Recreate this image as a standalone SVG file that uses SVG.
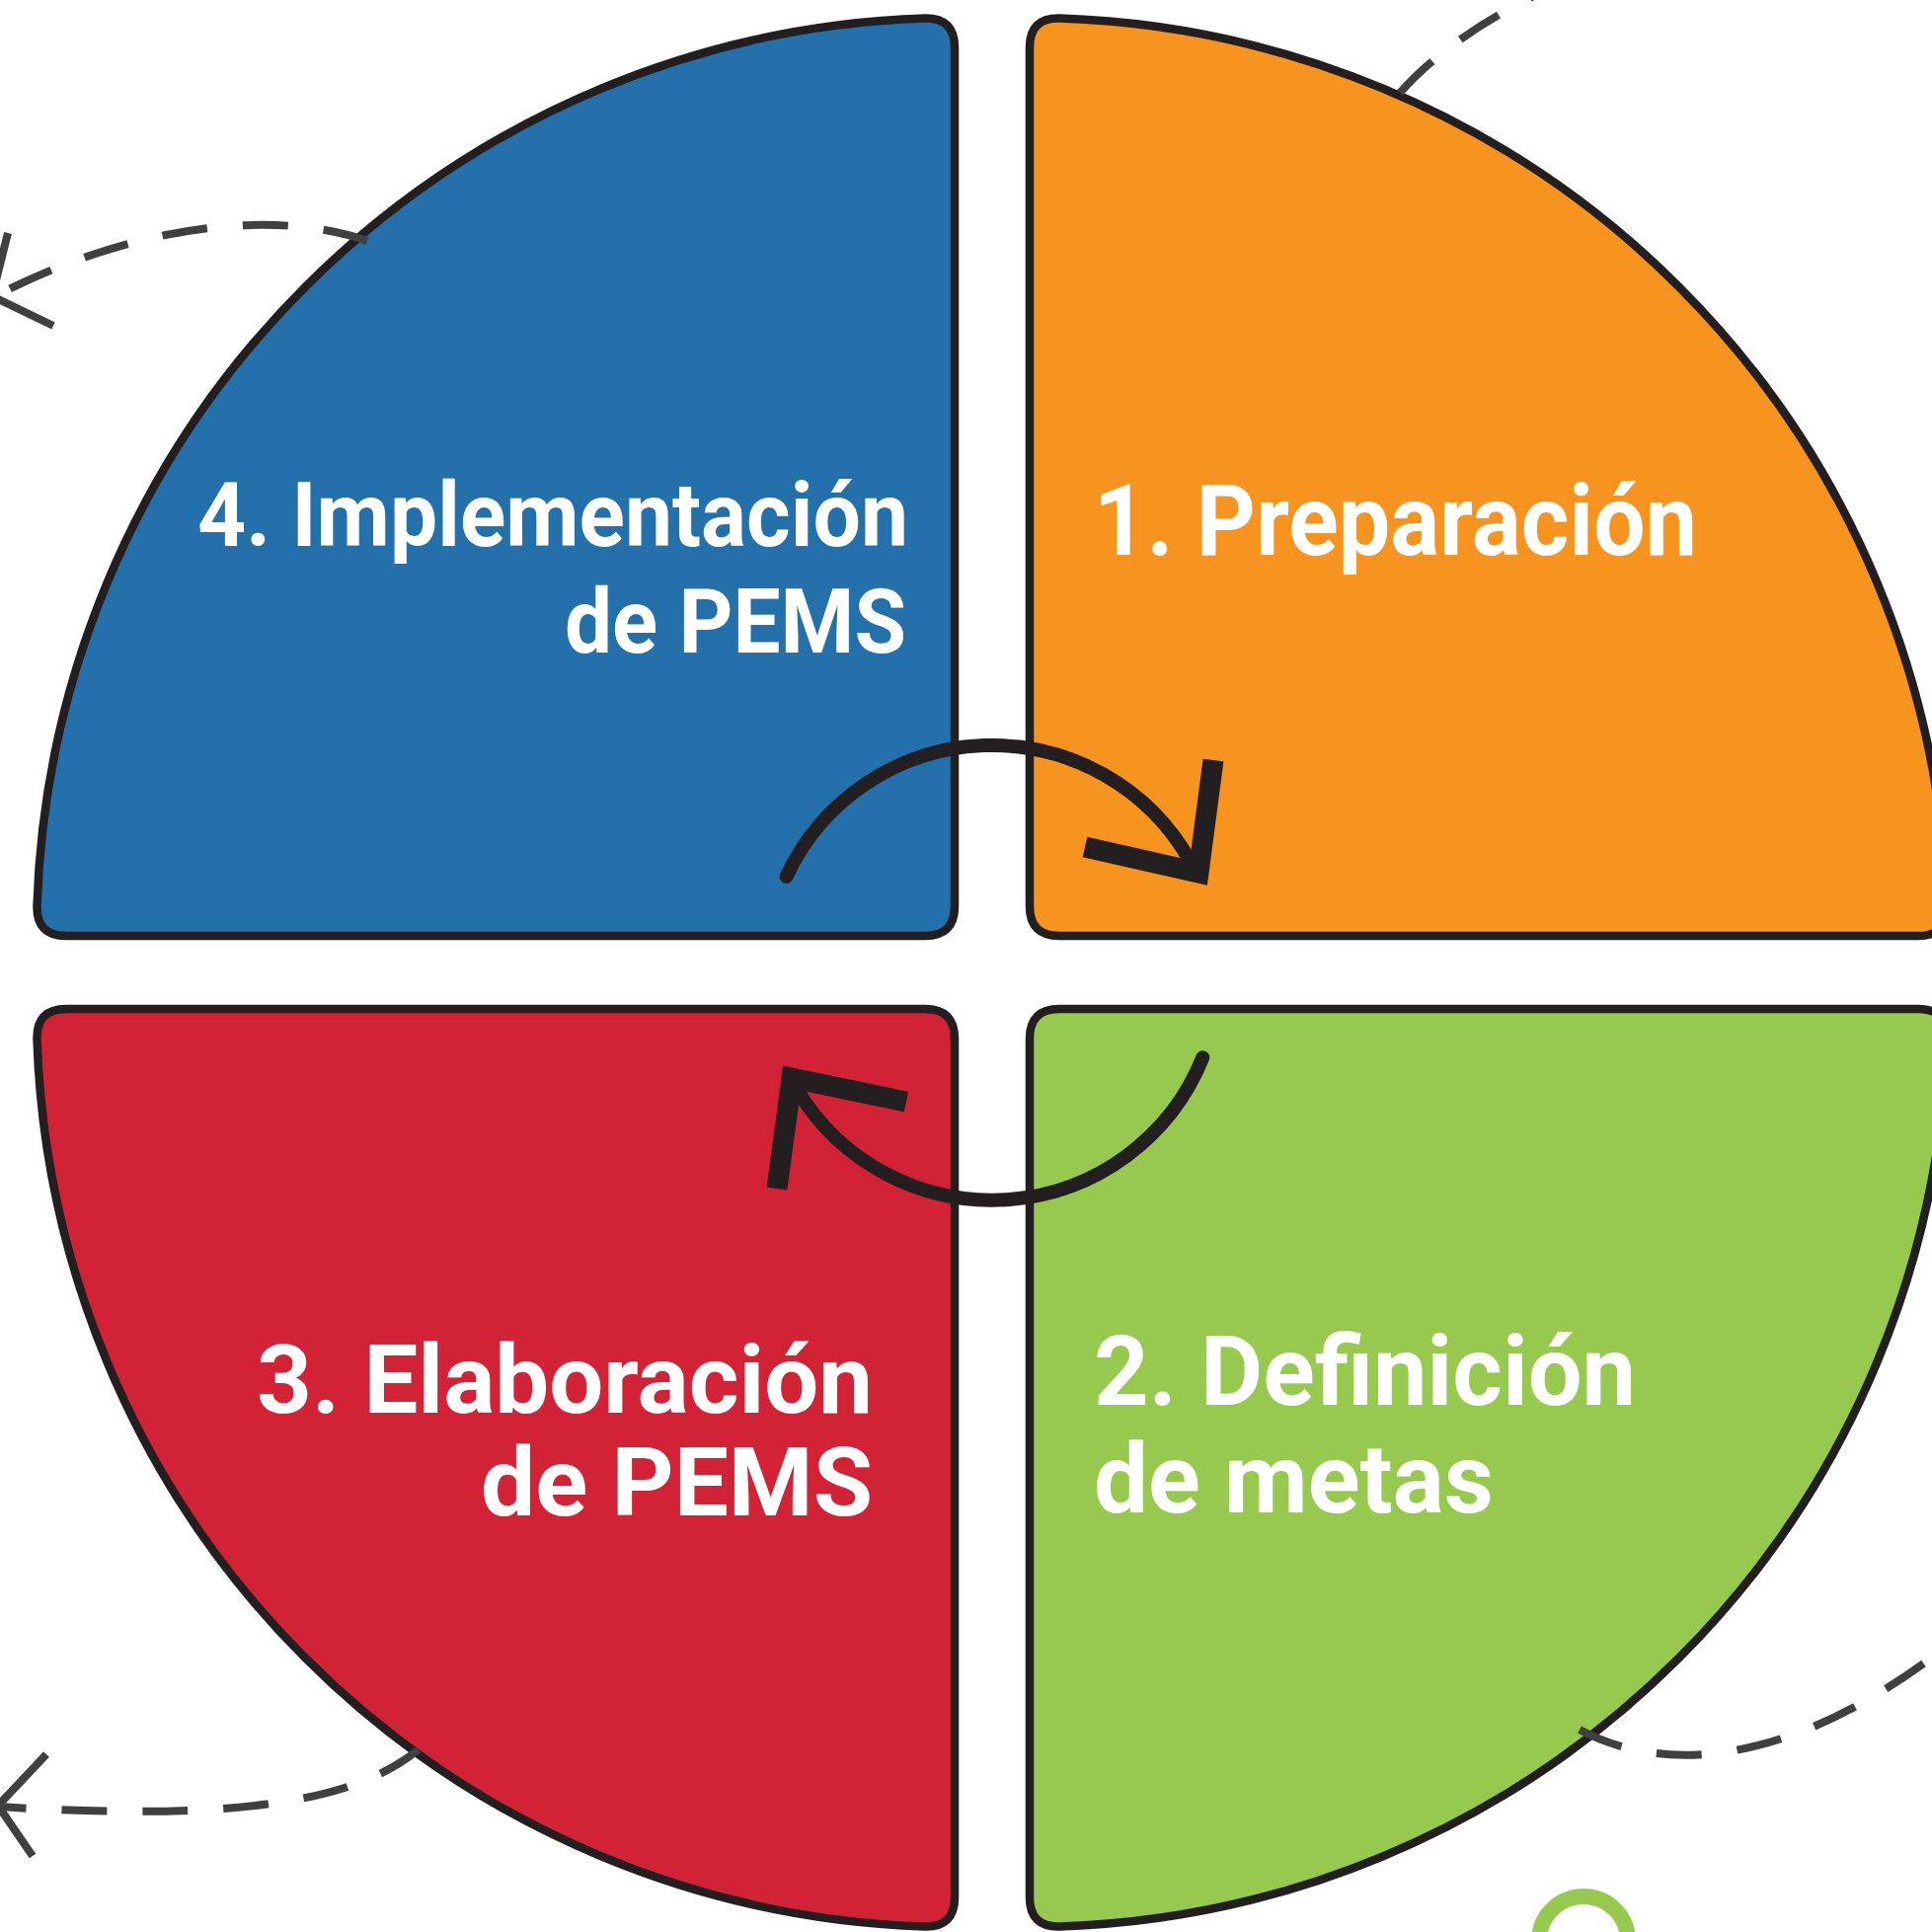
<svg xmlns="http://www.w3.org/2000/svg" width="1957" height="1957" viewBox="0 0 1957 1957">
<style>
.q{stroke:#231F20;stroke-width:8.5;stroke-linejoin:round}
.lbl{font-family:Roboto,"Liberation Sans",sans-serif;font-weight:700;fill:#FFFFFF}
.arc{fill:none;stroke:#231F20;stroke-width:14;stroke-linecap:round}
.head{fill:none;stroke:#231F20;stroke-width:21;stroke-linejoin:miter;stroke-linecap:butt}
.dash{fill:none;stroke:#404040;stroke-width:8;stroke-dasharray:46 36}
.dhead{fill:none;stroke:#404040;stroke-width:8;stroke-linejoin:miter}
</style>
<rect width="1957" height="1957" fill="#FFFFFF"/>
<g id="node-4">
<path class="q" fill="#2370AB" d="M67,948 L937,948 Q967,948 967,918 L967,48 Q967,18 937,18.5 A930 930 0 0 0 37.5,918 Q37,948 67,948 Z"/>
<text class="lbl" font-size="90" text-anchor="end" x="920" y="553" textLength="720" lengthAdjust="spacingAndGlyphs">4. Implementación</text>
<text class="lbl" font-size="90" text-anchor="end" x="918" y="661" textLength="346" lengthAdjust="spacingAndGlyphs">de PEMS</text>
</g>
<g id="node-1">
<path class="q" fill="#F7941F" d="M1043,48 L1043,918 Q1043,948 1073,948 L1943,948 Q1973,948 1972.5,918 A930 930 0 0 0 1073,18.5 Q1043,18 1043,48 Z"/>
<text class="lbl" font-size="100" x="1108" y="562" textLength="611" lengthAdjust="spacingAndGlyphs">1. Preparación</text>
</g>
<g id="node-2">
<path class="q" fill="#97C94F" d="M1073,1022 L1943,1022 Q1973,1022 1972.5,1052 A930 930 0 0 1 1073,1951.5 Q1043,1952 1043,1922 L1043,1052 Q1043,1022 1073,1022 Z"/>
<text class="lbl" font-size="98" x="1108" y="1423" textLength="549" lengthAdjust="spacingAndGlyphs">2. Definición</text>
<text class="lbl" font-size="98" x="1108" y="1532" textLength="405" lengthAdjust="spacingAndGlyphs">de metas</text>
</g>
<g id="node-3">
<path class="q" fill="#D22336" d="M937,1022 Q967,1022 967,1052 L967,1922 Q967,1952 937,1951.5 A930 930 0 0 1 37.5,1052 Q37,1022 67,1022 Z"/>
<text class="lbl" font-size="97" text-anchor="end" x="884" y="1431" textLength="624" lengthAdjust="spacingAndGlyphs">3. Elaboración</text>
<text class="lbl" font-size="97" text-anchor="end" x="884" y="1535" textLength="397" lengthAdjust="spacingAndGlyphs">de PEMS</text>
</g>
<g id="gear-partial">
<circle cx="1604" cy="1966" r="45" fill="none" stroke="#97C94F" stroke-width="16"/>
</g>
<g id="connectors">
<path class="arc" d="M796.6,887.8 A230 230 0 0 1 1206,873"/>
<polyline class="head" points="1229,770 1214,884 1099,858"/>
<path class="arc" d="M1218.3,1071.2 A230 230 0 0 1 807,1103"/>
<polyline class="head" points="787,1204 802,1092 918,1116"/>
<path class="dash" d="M1418,94 Q1470,35 1570,-12"/>
<path class="dash" d="M372,244 C290,215 150,220 -5,300"/>
<polyline class="dhead" points="8,236 -8,300 54,330"/>
<path class="dash" d="M424,1772 C360,1825 240,1845 -2,1830"/>
<polyline class="dhead" points="47,1777 -2,1829 33,1880"/>
<path class="dash" d="M1600,1752 C1680,1795 1810,1795 1975,1665"/>
</g>
</svg>
